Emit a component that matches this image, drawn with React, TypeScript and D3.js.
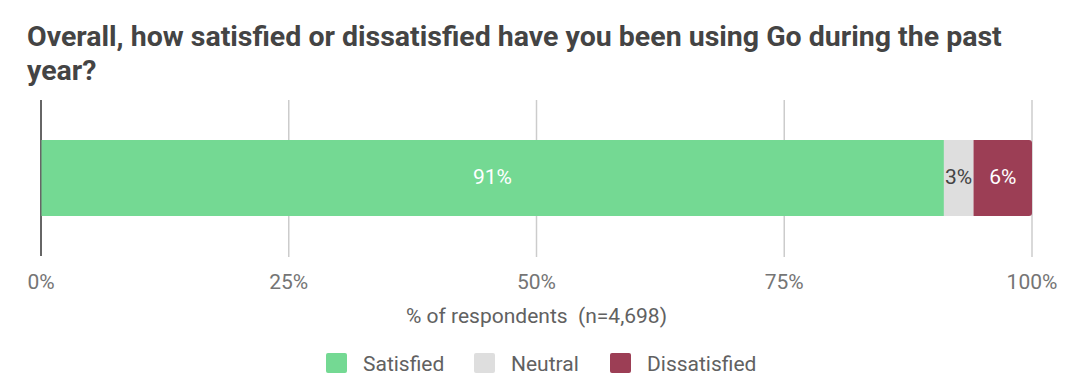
import React from "react";
import * as d3 from "d3";

const categories = ["Satisfied", "Neutral", "Dissatisfied"];
const values = [91.1, 3.0, 5.9];
const labels = ["91%", "3%", "6%"];
const colors = ["#74d993", "#dedede", "#9c3e55"];
const labelColors = ["#ffffff", "#444444", "#ffffff"];
const ticks = [0, 25, 50, 75, 100];
const titleLines = [
  "Overall, how satisfied or dissatisfied have you been using Go during the past",
  "year?",
];
const axisTitle = "% of respondents\u00a0\u00a0(n=4,698)";

export default function App() {
  const W = 1080, H = 390;
  const x = d3.scaleLinear().domain([0, 100]).range([41, 1032]);
  const y = d3.scaleBand().domain(["row"]).range([100, 256]).paddingInner(0).paddingOuter(0.26);
  const stack = d3.stack<any>().keys(categories)([
    Object.fromEntries(categories.map((c, i) => [c, values[i]])),
  ]);
  const font = "Roboto, 'Noto Sans', sans-serif";
  const legendX = [326, 474, 610];
  const y0 = 140, h = 76;
  return (
    <svg width={W} height={H} style={{ position: "absolute", left: 0, top: 0, background: "#fff" }}>
      {titleLines.map((t, i) => (
        <text key={i} x={27} y={46 + i * 34} fontFamily={font} fontWeight={700} fontSize={28.5} fill="#444">
          {t}
        </text>
      ))}
      {ticks.slice(1).map((t) => (
        <line key={t} x1={x(t)} x2={x(t)} y1={100} y2={257} stroke="#cccccc" strokeWidth={1.5} />
      ))}
      <line x1={x(0)} x2={x(0)} y1={100} y2={256} stroke="#333" strokeWidth={1.5} />
      {stack.map((s, i) => {
        const d = s[0];
        const x0 = x(d[0]), x1 = x(d[1]);
        const last = i === stack.length - 1;
        return (
          <g key={categories[i]}>
            {last ? (
              <path
                d={`M${x0},${y0}H${x1 - 3}Q${x1},${y0} ${x1},${y0 + 3}V${y0 + h - 3}Q${x1},${y0 + h} ${x1 - 3},${y0 + h}H${x0}Z`}
                fill={colors[i]}
              />
            ) : (
              <rect x={x0 + (i === 0 ? 0.5 : 0)} y={y0} width={x1 - x0} height={h} fill={colors[i]} />
            )}
            <text
              x={(x0 + x1) / 2}
              y={184}
              textAnchor="middle"
              fontFamily={font}
              fontSize={21}
              fill={labelColors[i]}
            >
              {labels[i]}
            </text>
          </g>
        );
      })}
      {ticks.map((t) => (
        <text key={t} x={x(t)} y={289} textAnchor="middle" fontFamily={font} fontSize={21} fill="#757575">
          {t}%
        </text>
      ))}
      <text x={x(50)} y={323} textAnchor="middle" fontFamily={font} fontSize={21} fill="#616161">
        {axisTitle}
      </text>
      {categories.map((c, i) => (
        <g key={c}>
          <rect x={legendX[i]} y={353} width={21} height={20} rx={2} fill={colors[i]} />
          <text x={legendX[i] + 37} y={371} fontFamily={font} fontSize={21} fill="#616161">
            {c}
          </text>
        </g>
      ))}
    </svg>
  );
}
